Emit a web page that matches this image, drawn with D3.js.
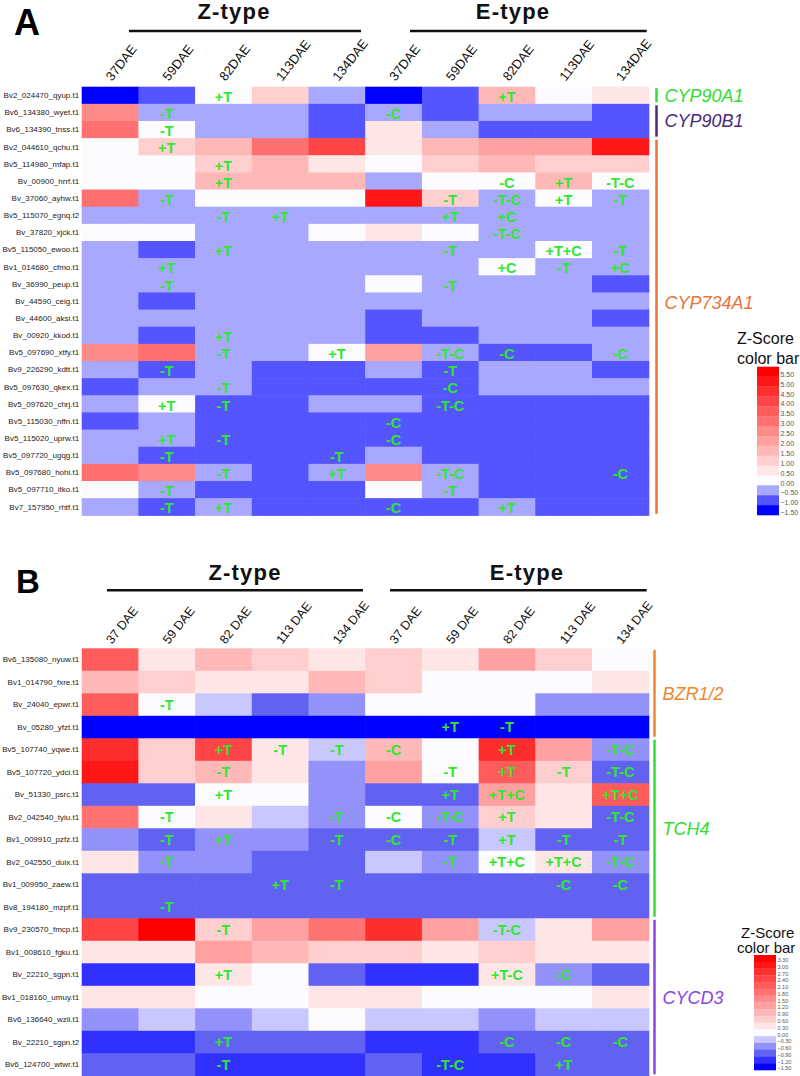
<!DOCTYPE html>
<html><head><meta charset="utf-8">
<script src="https://cdn.jsdelivr.net/npm/d3@7"></script>
<style>body{margin:0;background:#fff} svg{display:block} text{font-family:Arial,"Liberation Sans",sans-serif}</style>
</head><body>
<svg id="chart" width="800" height="1076"></svg>
<script>
// ---------------- DATA ----------------
const typeLabels = ["Z-type", "E-type"];
const columnsA = ["37DAE","59DAE","82DAE","113DAE","134DAE","37DAE","59DAE","82DAE","113DAE","134DAE"];
const columnsB = ["37 DAE","59 DAE","82 DAE","113 DAE","134 DAE","37 DAE","59 DAE","82 DAE","113 DAE","134 DAE"];

const genesA = ["Bv2_024470_qyup.t1","Bv6_134380_wyet.t1","Bv6_134390_tnss.t1","Bv2_044610_qchu.t1","Bv5_114980_mfap.t1",
  "Bv_00900_hrrf.t1","Bv_37060_ayhw.t1","Bv5_115070_egnq.t2","Bv_37820_xjck.t1","Bv5_115050_ewoo.t1","Bv1_014680_cfmo.t1",
  "Bv_36990_peup.t1","Bv_44590_ceig.t1","Bv_44600_aksi.t1","Bv_00920_kkod.t1","Bv5_097690_xtfy.t1","Bv9_226290_kdtt.t1",
  "Bv5_097630_qkex.t1","Bv5_097620_chrj.t1","Bv5_115030_nffn.t1","Bv5_115020_uprw.t1","Bv5_097720_ugqg.t1",
  "Bv5_097680_hohi.t1","Bv5_097710_itko.t1","Bv7_157950_rhtf.t1"];
const valuesA = [
  [-1.5,-1.0, 0.0, 1.0,-0.5,-1.5,-1.0, 1.5, 0.0, 0.5],
  [ 2.5,-0.5,-0.5,-0.5,-1.0,-0.5,-1.0,-0.5,-0.5,-1.0],
  [ 3.0, 0.0,-0.5,-0.5,-1.0, 0.5,-0.5,-1.0,-1.0,-1.0],
  [ 0.0, 1.0, 1.5, 3.0, 4.0, 0.5, 1.5, 2.0, 2.0, 5.0],
  [ 0.0, 0.0, 1.0, 1.5, 0.5, 0.0, 1.0, 1.5, 1.0, 1.0],
  [ 0.0, 0.0, 1.5, 1.5, 1.5,-0.5, 0.0, 0.0, 1.5, 0.0],
  [ 3.0,-0.5, 0.0, 0.0, 0.0, 5.0, 1.0,-0.5, 0.0,-0.5],
  [-0.5,-0.5,-0.5,-0.5,-0.5,-0.5,-0.5,-0.5,-0.5,-0.5],
  [ 0.0, 0.0,-0.5,-0.5, 0.0, 0.5, 0.0,-0.5,-0.5,-0.5],
  [-0.5,-1.0,-0.5,-0.5,-0.5,-0.5,-0.5,-0.5, 0.0,-0.5],
  [-0.5,-0.5,-0.5,-0.5,-0.5,-0.5,-0.5, 0.0,-0.5,-0.5],
  [-0.5,-0.5,-0.5,-0.5,-0.5, 0.0,-0.5,-0.5,-0.5,-1.0],
  [-0.5,-1.0,-0.5,-0.5,-0.5,-0.5,-0.5,-0.5,-0.5,-0.5],
  [-0.5,-0.5,-0.5,-0.5,-0.5,-1.0,-0.5,-0.5,-0.5,-1.0],
  [-0.5,-1.0,-0.5,-0.5,-0.5,-1.0,-1.0,-0.5,-0.5,-0.5],
  [ 2.5, 3.0,-0.5,-0.5, 0.0, 2.0,-0.5,-1.0,-1.0,-0.5],
  [-0.5,-1.0,-0.5,-1.0,-1.0,-0.5,-1.0,-0.5,-0.5,-1.0],
  [-1.0,-0.5,-0.5,-1.0,-1.0,-1.0,-1.0,-0.5,-0.5,-0.5],
  [-0.5, 0.0,-1.0,-1.0,-0.5,-0.5,-1.0,-1.0,-1.0,-1.0],
  [-1.0,-0.5,-1.0,-1.0,-1.0,-1.0,-1.0,-1.0,-1.0,-1.0],
  [-0.5,-0.5,-1.0,-1.0,-1.0,-1.0,-1.0,-1.0,-1.0,-1.0],
  [-0.5,-1.0,-1.0,-1.0,-1.0,-0.5,-1.0,-1.0,-1.0,-1.0],
  [ 3.0, 2.5,-0.5,-1.0,-0.5, 2.5,-0.5,-1.0,-1.0,-1.0],
  [ 0.0,-0.5,-1.0,-1.0,-1.0, 0.0,-0.5,-1.0,-1.0,-1.0],
  [-0.5,-1.0,-0.5,-1.0,-1.0,-1.0,-1.0,-0.5,-1.0,-1.0]
];
const notesA = [
  ["","","+T","","","","","+T","",""],
  ["","-T","","","","-C","","","",""],
  ["","-T","","","","","","","",""],
  ["","+T","","","","","","","",""],
  ["","","+T","","","","","","",""],
  ["","","+T","","","","","-C","+T","-T-C"],
  ["","-T","","","","","-T","-T-C","+T","-T"],
  ["","","-T","+T","","","+T","+C","",""],
  ["","","","","","","","-T-C","",""],
  ["","","+T","","","","-T","","+T+C","-T"],
  ["","+T","","","","","","+C","-T","+C"],
  ["","-T","","","","","-T","","",""],
  ["","","","","","","","","",""],
  ["","","","","","","","","",""],
  ["","","+T","","","","","","",""],
  ["","","-T","","+T","","-T-C","-C","","-C"],
  ["","-T","","","","","-T","","",""],
  ["","","-T","","","","-C","","",""],
  ["","+T","-T","","","","-T-C","","",""],
  ["","","","","","-C","","","",""],
  ["","+T","-T","","","-C","","","",""],
  ["","-T","","","-T","","","","",""],
  ["","","-T","","+T","","-T-C","","","-C"],
  ["","-T","","","","","-T","","",""],
  ["","-T","+T","","","-C","","+T","",""]
];
const familiesA = ["CYP90A1","CYP90B1","CYP734A1"];
const familyStartA = [0, 1, 3];
const familyEndA = [0, 2, 24];
const scaleTicksA = [5.5,5.0,4.5,4.0,3.5,3.0,2.5,2.0,1.5,1.0,0.5,0.0,-0.5,-1.0,-1.5];

const genesB = ["Bv6_135080_nyuw.t1","Bv1_014790_fxre.t1","Bv_24040_epwr.t1","Bv_05280_yfzt.t1","Bv5_107740_yqwe.t1",
  "Bv5_107720_ydci.t1","Bv_51330_psrc.t1","Bv2_042540_tyiu.t1","Bv1_009910_pzfz.t1","Bv2_042550_duix.t1",
  "Bv1_009950_zaew.t1","Bv8_194180_mzpf.t1","Bv9_230570_fmcp.t1","Bv1_008610_fgku.t1","Bv_22210_sgpn.t1",
  "Bv1_018160_umuy.t1","Bv6_136640_wzii.t1","Bv_22210_sgpn.t2","Bv6_124700_wtwr.t1"];
const valuesB = [
  [ 2.1, 0.3, 0.9, 0.6, 0.3, 0.6, 0.3, 1.2, 0.6, 0.0],
  [ 0.9, 0.6, 0.3, 0.3, 0.9, 0.6, 0.0, 0.0, 0.0, 0.3],
  [ 2.1, 0.0,-0.3,-0.9,-0.6, 0.0, 0.0, 0.0,-0.6,-0.6],
  [-1.5,-1.5,-1.5,-1.5,-1.5,-1.5,-1.5,-1.5,-1.5,-1.5],
  [ 2.7, 0.6, 2.4, 0.3,-0.3, 0.9, 0.0, 2.7, 1.2,-0.6],
  [ 3.0, 0.6, 0.9, 0.3,-0.6, 1.2, 0.0, 2.1, 0.6,-0.9],
  [-0.9,-0.9, 0.0, 0.0,-0.6,-0.9,-0.9, 1.2, 0.3, 2.1],
  [ 1.8, 0.0, 0.3,-0.3,-0.6, 0.0,-0.6, 0.6, 0.3,-0.9],
  [-0.6,-0.9,-0.6,-0.6,-0.9,-0.9,-0.9,-0.3,-0.9,-0.9],
  [ 0.3,-0.6,-0.6,-0.9,-0.9,-0.3,-0.6, 0.0, 0.3,-0.6],
  [-0.9,-0.9,-0.9,-0.9,-0.9,-0.9,-0.9,-0.9,-0.9,-0.9],
  [-0.9,-0.9,-0.9,-0.9,-0.9,-0.9,-0.9,-0.9,-0.9,-0.9],
  [ 2.4, 3.3, 0.6, 1.2, 1.8, 2.7, 1.2,-0.3, 0.3, 1.2],
  [ 0.3, 0.3, 1.2, 0.9, 0.6, 0.6, 0.3, 0.6, 0.3, 0.3],
  [-1.2,-1.2, 0.3, 0.0,-0.9,-1.2,-1.2, 0.3,-0.6,-0.9],
  [ 0.3, 0.3, 0.0, 0.0, 0.3, 0.3, 0.0, 0.0, 0.0, 0.3],
  [-0.6,-0.3,-0.6,-0.3, 0.0,-0.3,-0.3,-0.6,-0.3,-0.3],
  [-1.2,-1.2,-0.9,-0.9,-0.9,-1.2,-1.2,-0.9,-0.9,-0.9],
  [-0.9,-0.9,-1.2,-1.2,-1.2,-0.9,-1.2,-1.2,-0.9,-0.9]
];
const notesB = [
  ["","","","","","","","","",""],
  ["","","","","","","","","",""],
  ["","-T","","","","","","","",""],
  ["","","","","","","+T","-T","",""],
  ["","","+T","-T","-T","-C","","+T","","-T-C"],
  ["","","-T","","","","-T","+T","-T","-T-C"],
  ["","","+T","","","","+T","+T+C","","+T+C"],
  ["","-T","","","-T","-C","-T-C","+T","","-T-C"],
  ["","-T","+T","","-T","-C","-T","+T","-T","-T"],
  ["","-T","","","","","-T","+T+C","+T+C","-T-C"],
  ["","","","+T","-T","","","","-C","-C"],
  ["","-T","","","","","","","",""],
  ["","","-T","","","","","-T-C","",""],
  ["","","","","","","","","",""],
  ["","","+T","","","","","+T-C","-C",""],
  ["","","","","","","","","",""],
  ["","","","","","","","","",""],
  ["","","+T","","","","","-C","-C","-C"],
  ["","","-T","","","","-T-C","","+T",""]
];
const familiesB = ["BZR1/2","TCH4","CYCD3"];
const familyStartB = [0, 4, 12];
const familyEndB = [3, 11, 18];
const scaleTicksB = [3.3,3.0,2.7,2.4,2.1,1.8,1.5,1.2,0.9,0.6,0.3,0.0,-0.3,-0.6,-0.9,-1.2,-1.5];

// ---------------- DRAWING ----------------
const svg = d3.select("#chart");
const noteColor = "#2ee82e";

function drawPanel(p) {
  const g = svg.append("g");
  const x = d3.scaleBand().domain(d3.range(p.columns.length)).range([p.x0, p.x1]).padding(0);
  const y = d3.scaleBand().domain(d3.range(p.genes.length)).range([p.y0, p.y1]).padding(0);

  // colour scale: nearest tick
  const asc = p.ticks.slice().sort((a,b)=>a-b);
  const colAsc = asc.map(t => p.colors[p.ticks.indexOf(t)]);
  const mids = asc.slice(1).map((t,i)=> (t + asc[i]) / 2);
  const color = d3.scaleThreshold().domain(mids).range(colAsc);

  // panel letter
  g.append("text").attr("x", p.letterX).attr("y", p.letterY).attr("font-size", p.letterSize)
    .attr("font-weight", "bold").attr("fill", "#000").text(p.letter);

  // type headers
  p.headers.forEach((h, i) => {
    g.append("text").attr("x", h.cx).attr("y", h.ty).attr("text-anchor", "middle")
      .attr("font-size", 22).attr("font-weight", "bold").attr("letter-spacing", 1.2)
      .attr("fill", "#111").text(typeLabels[i]);
    g.append("line").attr("x1", h.lx1).attr("x2", h.lx2).attr("y1", h.ly).attr("y2", h.ly)
      .attr("stroke", "#111").attr("stroke-width", 2.5);
  });

  // column labels
  g.selectAll(".col").data(p.columns).join("text")
    .attr("transform", (d, i) => `translate(${x(i) + x.bandwidth()/2 + 2},${p.y0 - p.colLabelGap}) rotate(-52)`)
    .attr("font-size", p.colFont).attr("fill", "#111").text(d => d);

  // cells
  const cells = [];
  p.values.forEach((row, r) => row.forEach((v, c) => cells.push({r, c, v, note: p.notes[r][c]})));
  g.selectAll(".cell").data(cells).join("rect")
    .attr("x", d => x(d.c)).attr("y", d => y(d.r))
    .attr("width", x.bandwidth() + 0.6).attr("height", y.bandwidth() + 0.6)
    .attr("fill", d => color(d.v));

  // row labels
  g.selectAll(".rowlab").data(p.genes).join("text")
    .attr("x", p.x0 - 2.5).attr("y", (d, i) => y(i) + y.bandwidth()/2)
    .attr("dy", "0.35em").attr("text-anchor", "end").attr("font-size", 8).attr("fill", "#222")
    .text(d => d);

  // notes
  g.selectAll(".note").data(cells.filter(d => d.note)).join("text")
    .attr("x", d => x(d.c) + x.bandwidth()/2).attr("y", d => y(d.r) + y.bandwidth()/2 + p.noteDy)
    .attr("dy", "0.36em").attr("text-anchor", "middle").attr("font-size", 14.5)
    .attr("font-weight", "bold").attr("fill", noteColor).text(d => d.note);

  // families
  p.families.forEach((f, i) => {
    const ya = y(p.famStart[i]) + 1.5, yb = y(p.famEnd[i]) + y.bandwidth() - 1.5;
    g.append("line").attr("x1", p.famLineX).attr("x2", p.famLineX).attr("y1", ya).attr("y2", yb)
      .attr("stroke", p.famColors[i]).attr("stroke-width", 2.5);
    const ly = (p.famLabelY && p.famLabelY[i] != null) ? p.famLabelY[i] : (ya + yb) / 2;
    g.append("text").attr("x", p.famLineX + 8).attr("y", ly).attr("dy", "0.36em")
      .attr("font-size", 18).attr("font-style", "italic").attr("fill", p.famColors[i]).text(f);
  });

  // colour bar
  const cb = p.cbar;
  g.append("text").attr("x", cb.tx1).attr("y", cb.ty1).attr("font-size", cb.titleSize).attr("fill", "#111").text("Z-Score");
  g.append("text").attr("x", cb.tx2).attr("y", cb.ty2).attr("font-size", cb.titleSize).attr("fill", "#111").text("color bar");
  const cy = d3.scaleBand().domain(d3.range(p.ticks.length)).range([cb.y0, cb.y1]);
  g.selectAll(".cbseg").data(p.ticks).join("rect")
    .attr("x", cb.x).attr("y", (d, i) => cy(i)).attr("width", cb.w).attr("height", cy.bandwidth() + 0.3)
    .attr("fill", d => color(d));
  const fmt = d3.format(".2f");
  g.selectAll(".cblab").data(p.ticks).join("text")
    .attr("x", cb.x + cb.w + 1.5).attr("y", (d, i) => cy(i) + cy.bandwidth() * 0.77)
    .attr("dy", "0.35em").attr("font-size", cb.labSize).attr("fill", "#555").text(d => fmt(d));
}

drawPanel({
  letter: "A", letterX: 14, letterY: 35, letterSize: 36,
  columns: columnsA, genes: genesA, values: valuesA, notes: notesA, ticks: scaleTicksA,
  colors: ["#ff0000","#ff1717","#ff2e2e","#ff4545","#ff5c5c","#ff7070","#ff8a8a","#ffa1a1","#ffb8b8","#ffcfcf","#ffe6e6","#fcfcff","#a8a8ff","#5555ff","#0000ff"],
  x0: 81.7, x1: 648.7, y0: 86.7, y1: 515.3,
  colLabelGap: 5, colFont: 13, noteDy: 1.5,
  headers: [{cx: 234, ty: 18.5, lx1: 129, lx2: 361, ly: 31}, {cx: 513, ty: 18.5, lx1: 410, lx2: 646.7, ly: 31}],
  families: familiesA, famStart: familyStartA, famEnd: familyEndA,
  famColors: ["#33dd33", "#4a2a7a", "#e8743b"], famLineX: 656.5, famLabelY: [null, null, 303],
  cbar: {x: 757, w: 22, y0: 366.7, y1: 515, tx1: 737, ty1: 343.7, tx2: 737, ty2: 363.7, titleSize: 16, labSize: 7}
});

drawPanel({
  letter: "B", letterX: 16, letterY: 593, letterSize: 33,
  columns: columnsB, genes: genesB, values: valuesB, notes: notesB, ticks: scaleTicksB,
  colors: ["#ff0000","#ff1717","#ff2e2e","#ff4545","#ff5c5c","#ff7373","#ff8a8a","#ffa1a1","#ffb8b8","#ffcfcf","#ffe6e6","#fcfcff","#c8c8ff","#9292fa","#6262f2","#3030ff","#0000ff"],
  x0: 81.7, x1: 648.7, y0: 648.3, y1: 1075.8,
  colLabelGap: 3.5, colFont: 12.5, noteDy: 0,
  headers: [{cx: 245, ty: 580, lx1: 107, lx2: 363, ly: 590.3}, {cx: 527, ty: 580, lx1: 390, lx2: 646.7, ly: 590.3}],
  families: familiesB, famStart: familyStartB, famEnd: familyEndB,
  famColors: ["#f0852d", "#33dd33", "#8b44e0"], famLineX: 654.5, famLabelY: null,
  cbar: {x: 754, w: 22, y0: 955, y1: 1070, tx1: 741, ty1: 937.5, tx2: 737, ty2: 952.5, titleSize: 15, labSize: 5.5}
});
</script>
</body></html>
